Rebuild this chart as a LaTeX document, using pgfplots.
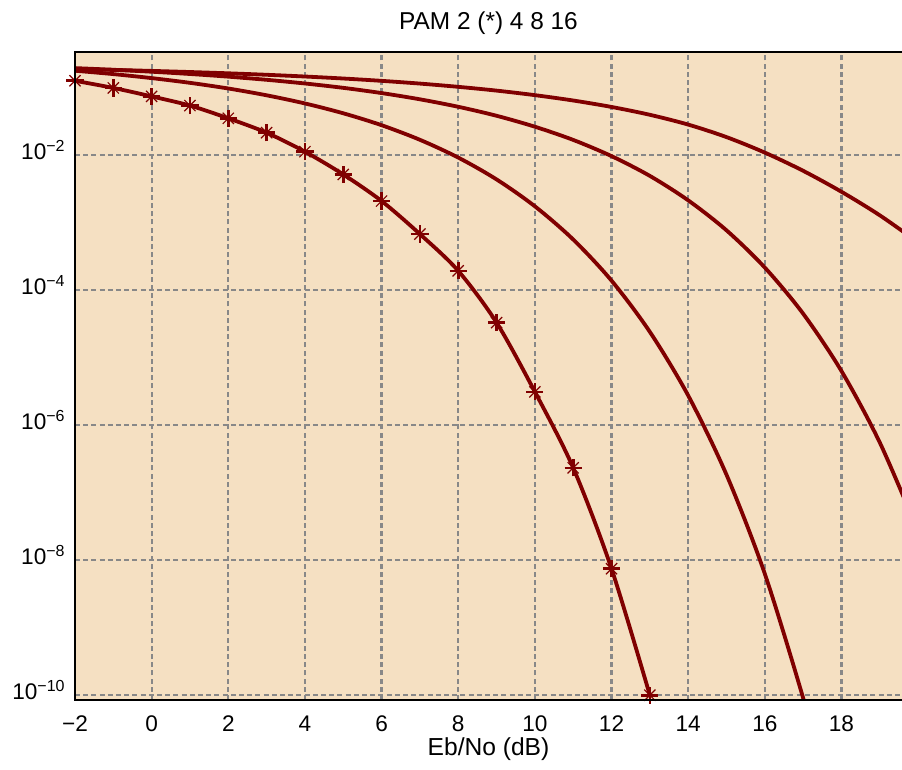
\documentclass[border=0pt]{standalone}
\usepackage{fontspec}
\setmainfont{Liberation Sans}
\usepackage{pgfplots}
\usepackage{pgfplotstable}
\pgfplotsset{compat=1.18}

\definecolor{panel}{RGB}{245,224,194}
\definecolor{curve}{RGB}{128,0,0}
\definecolor{gridgray}{RGB}{136,136,136}

% power-of-ten tick label set in the text font
\newcommand{\decade}[1]{10\raisebox{4pt}{\fontsize{8}{9}\selectfont −#1}}

% plus with a thin cross through it
\pgfdeclareplotmark{starplus}{%
  \pgfsetlinewidth{1.3pt}%
  \pgfpathmoveto{\pgfqpoint{-\pgfplotmarksize}{0pt}}%
  \pgfpathlineto{\pgfqpoint{\pgfplotmarksize}{0pt}}%
  \pgfpathmoveto{\pgfqpoint{0pt}{-\pgfplotmarksize}}%
  \pgfpathlineto{\pgfqpoint{0pt}{\pgfplotmarksize}}%
  \pgfusepathqstroke
  \pgfsetlinewidth{0.6pt}%
  \pgfpathmoveto{\pgfqpoint{-0.65\pgfplotmarksize}{-0.65\pgfplotmarksize}}%
  \pgfpathlineto{\pgfqpoint{0.65\pgfplotmarksize}{0.65\pgfplotmarksize}}%
  \pgfpathmoveto{\pgfqpoint{-0.65\pgfplotmarksize}{0.65\pgfplotmarksize}}%
  \pgfpathlineto{\pgfqpoint{0.65\pgfplotmarksize}{-0.65\pgfplotmarksize}}%
  \pgfusepathqstroke
}

% bit error rate against Eb/No in dB
\pgfplotstableread{
snr ber
-2 0.127
-1 0.0995
0 0.0745
1 0.0545
2 0.0353
3 0.0216
4 0.0113
5 0.0052
6 0.0021
7 6.8e-4
8 1.94e-4
9 3.32e-5
10 3.13e-6
11 2.34e-7
12 7.5e-9
13 1.0e-10
}\pamtwo

\pgfplotstableread{
snr ber
-2 0.179
-1 0.1595
0 0.1391
1 0.1184
2 0.0976
3 0.0774
4 0.0586
5 0.0419
6 0.0279
7 0.01696
8 0.00925
9 0.00439
10 0.001754
11 0.000565
12 0.000139
13 2.42e-5
14 2.76e-6
15 1.85e-7
16 6.3e-9
17 9.1e-11
17.5 7.5e-12
}\pamfour

\pgfplotstableread{
snr ber
-2 0.1957
-1 0.1849
0 0.1730
1 0.1601
2 0.1461
3 0.1313
4 0.1158
5 0.0998
6 0.0835
7 0.0675
8 0.0523
9 0.0385
10 0.0265
11 0.01689
12 0.00972
13 0.00495
14 0.00215
15 0.000773
16 0.000217
17 4.50e-5
18 6.36e-6
19 5.55e-7
20 2.66e-8
}\pameight

\pgfplotstableread{
snr ber
-2 0.1892
-1 0.1839
0 0.1779
1 0.1712
2 0.1639
3 0.1558
4 0.1469
5 0.1372
6 0.1267
7 0.1154
8 0.1033
9 0.0908
10 0.0778
11 0.0648
12 0.0520
13 0.0398
14 0.0285
15 0.0186
16 0.01096
17 0.00589
18 0.00288
19 0.00129
20 0.000513
}\pamsixteen

\begin{document}
\begin{tikzpicture}
\begin{axis}[
  scale only axis,
  width=413.5pt, height=324pt,
  xmin=-2, xmax=19.58,
  ymode=log, ymin=8.5e-11, ymax=0.339,
  clip mode=individual,
  axis background/.style={fill=panel},
  axis line style={draw=none},
  tick style={draw=none},
  major tick length=0pt,
  grid=major,
  major grid style={gridgray, line width=1.1pt, dash pattern=on 2.5pt off 1.6pt},
  xtick={-2,0,2,4,6,8,10,12,14,16,18},
  xticklabels={−2,0,2,4,6,8,10,12,14,16,18},
  ytick={1e-10,1e-8,1e-6,1e-4,1e-2},
  yticklabels={\decade{10},\decade{8},\decade{6},\decade{4},\decade{2}},
  xticklabel style={anchor=base, yshift=-15.8pt, inner sep=0pt, font=\fontsize{11.3}{13}\selectfont},
  yticklabel style={anchor=base east, xshift=-5pt, yshift=-2pt, inner sep=0pt, font=\fontsize{11.3}{13}\selectfont},
  title={PAM 2 (*) 4 8 16},
  every axis title shift=0pt,
  title style={at={(0.5,1)}, anchor=base, yshift=11.3pt, inner sep=0pt, font=\fontsize{12.2}{14}\selectfont},
  xlabel={Eb/No (dB)},
  xlabel style={at={(axis description cs:0.5,0)}, anchor=base, yshift=-27.5pt, inner sep=0pt, font=\fontsize{12.3}{14}\selectfont},
  every axis plot/.append style={curve, line width=1.9pt, smooth},
]
\addplot[mark=starplus, mark size=4.3pt] table[x=snr, y=ber] {\pamtwo};
\addplot[no marks] table[x=snr, y=ber] {\pamfour};
\addplot[no marks] table[x=snr, y=ber] {\pameight};
\addplot[no marks] table[x=snr, y=ber] {\pamsixteen};

% frame on the left, top and bottom sides
\draw[black, line width=1pt] (rel axis cs:1,1) -- (rel axis cs:0,1) -- (rel axis cs:0,0) -- (rel axis cs:1,0);
\coordinate (bl) at (rel axis cs:0,0);
\coordinate (tr) at (rel axis cs:1,1);
\end{axis}
\pgfresetboundingbox
\path ([shift={(-37.5pt,-34.5pt)}]bl) rectangle ([shift={(0pt,26pt)}]tr);
\end{tikzpicture}
\end{document}
